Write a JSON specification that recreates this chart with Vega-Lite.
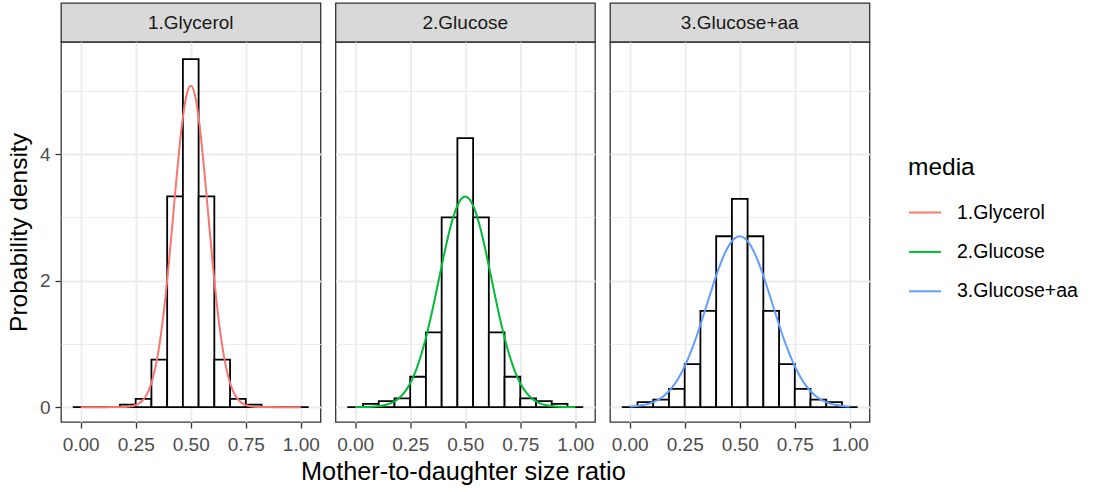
{
  "$schema": "https://vega.github.io/schema/vega-lite/v6.json",
  "background": "white",
  "padding": {"left": 5, "top": 2, "right": 5, "bottom": 5},
  "title": {"text": "Mother-to-daughter size ratio", "orient": "bottom", "anchor": "start", "frame": "group", "dx": 240, "fontSize": 25.3, "fontWeight": "normal", "font": "Liberation Sans", "color": "black", "offset": 5},
  "config": {
    "font": "Liberation Sans",
    "view": {"stroke": "#333333", "strokeWidth": 1.3},
    "axis": {
      "labelFont": "Liberation Sans",
      "labelFontSize": 19,
      "labelColor": "#4d4d4d",
      "tickColor": "#333333",
      "tickSize": 6,
      "tickWidth": 1.3,
      "labelPadding": 7,
      "domain": false,
      "gridColor": "#ebebeb",
      "titleFont": "Liberation Sans",
      "titleFontSize": 24.5,
      "titleFontWeight": "normal",
      "titleColor": "black",
      "labelOverlap": false,
      "labelFlush": false
    }
  },
  "datasets": {
    "bars": [
      {"media": "1.Glycerol", "x0": -0.0357, "x1": 0.0357, "density": 0},
      {"media": "1.Glycerol", "x0": 0.0357, "x1": 0.1071, "density": 0},
      {"media": "1.Glycerol", "x0": 0.1071, "x1": 0.1786, "density": 0},
      {"media": "1.Glycerol", "x0": 0.1786, "x1": 0.25, "density": 0.04},
      {"media": "1.Glycerol", "x0": 0.25, "x1": 0.3214, "density": 0.13},
      {"media": "1.Glycerol", "x0": 0.3214, "x1": 0.3929, "density": 0.75},
      {"media": "1.Glycerol", "x0": 0.3929, "x1": 0.4643, "density": 3.33},
      {"media": "1.Glycerol", "x0": 0.4643, "x1": 0.5357, "density": 5.5},
      {"media": "1.Glycerol", "x0": 0.5357, "x1": 0.6071, "density": 3.33},
      {"media": "1.Glycerol", "x0": 0.6071, "x1": 0.6786, "density": 0.75},
      {"media": "1.Glycerol", "x0": 0.6786, "x1": 0.75, "density": 0.13},
      {"media": "1.Glycerol", "x0": 0.75, "x1": 0.8214, "density": 0.04},
      {"media": "1.Glycerol", "x0": 0.8214, "x1": 0.8929, "density": 0},
      {"media": "1.Glycerol", "x0": 0.8929, "x1": 0.9643, "density": 0},
      {"media": "1.Glycerol", "x0": 0.9643, "x1": 1.0357, "density": 0},
      {"media": "2.Glucose", "x0": -0.0357, "x1": 0.0357, "density": 0},
      {"media": "2.Glucose", "x0": 0.0357, "x1": 0.1071, "density": 0.053},
      {"media": "2.Glucose", "x0": 0.1071, "x1": 0.1786, "density": 0.095},
      {"media": "2.Glucose", "x0": 0.1786, "x1": 0.25, "density": 0.137},
      {"media": "2.Glucose", "x0": 0.25, "x1": 0.3214, "density": 0.48},
      {"media": "2.Glucose", "x0": 0.3214, "x1": 0.3929, "density": 1.18},
      {"media": "2.Glucose", "x0": 0.3929, "x1": 0.4643, "density": 3.0},
      {"media": "2.Glucose", "x0": 0.4643, "x1": 0.5357, "density": 4.25},
      {"media": "2.Glucose", "x0": 0.5357, "x1": 0.6071, "density": 3.0},
      {"media": "2.Glucose", "x0": 0.6071, "x1": 0.6786, "density": 1.18},
      {"media": "2.Glucose", "x0": 0.6786, "x1": 0.75, "density": 0.48},
      {"media": "2.Glucose", "x0": 0.75, "x1": 0.8214, "density": 0.137},
      {"media": "2.Glucose", "x0": 0.8214, "x1": 0.8929, "density": 0.095},
      {"media": "2.Glucose", "x0": 0.8929, "x1": 0.9643, "density": 0.053},
      {"media": "2.Glucose", "x0": 0.9643, "x1": 1.0357, "density": 0},
      {"media": "3.Glucose+aa", "x0": -0.0357, "x1": 0.0357, "density": 0},
      {"media": "3.Glucose+aa", "x0": 0.0357, "x1": 0.1071, "density": 0.079},
      {"media": "3.Glucose+aa", "x0": 0.1071, "x1": 0.1786, "density": 0.12},
      {"media": "3.Glucose+aa", "x0": 0.1786, "x1": 0.25, "density": 0.29},
      {"media": "3.Glucose+aa", "x0": 0.25, "x1": 0.3214, "density": 0.68},
      {"media": "3.Glucose+aa", "x0": 0.3214, "x1": 0.3929, "density": 1.52},
      {"media": "3.Glucose+aa", "x0": 0.3929, "x1": 0.4643, "density": 2.7},
      {"media": "3.Glucose+aa", "x0": 0.4643, "x1": 0.5357, "density": 3.29},
      {"media": "3.Glucose+aa", "x0": 0.5357, "x1": 0.6071, "density": 2.7},
      {"media": "3.Glucose+aa", "x0": 0.6071, "x1": 0.6786, "density": 1.52},
      {"media": "3.Glucose+aa", "x0": 0.6786, "x1": 0.75, "density": 0.68},
      {"media": "3.Glucose+aa", "x0": 0.75, "x1": 0.8214, "density": 0.29},
      {"media": "3.Glucose+aa", "x0": 0.8214, "x1": 0.8929, "density": 0.12},
      {"media": "3.Glucose+aa", "x0": 0.8929, "x1": 0.9643, "density": 0.079},
      {"media": "3.Glucose+aa", "x0": 0.9643, "x1": 1.0357, "density": 0}
    ],
    "dens": [
      {"media": "1.Glycerol", "ratio": 0, "density": 0},
      {"media": "1.Glycerol", "ratio": 0.02, "density": 0},
      {"media": "1.Glycerol", "ratio": 0.04, "density": 0},
      {"media": "1.Glycerol", "ratio": 0.06, "density": 0},
      {"media": "1.Glycerol", "ratio": 0.08, "density": 0},
      {"media": "1.Glycerol", "ratio": 0.1, "density": 0},
      {"media": "1.Glycerol", "ratio": 0.12, "density": 0},
      {"media": "1.Glycerol", "ratio": 0.14, "density": 0.0001},
      {"media": "1.Glycerol", "ratio": 0.16, "density": 0.0004},
      {"media": "1.Glycerol", "ratio": 0.18, "density": 0.0013},
      {"media": "1.Glycerol", "ratio": 0.2, "density": 0.0034},
      {"media": "1.Glycerol", "ratio": 0.22, "density": 0.0088},
      {"media": "1.Glycerol", "ratio": 0.24, "density": 0.0211},
      {"media": "1.Glycerol", "ratio": 0.26, "density": 0.0475},
      {"media": "1.Glycerol", "ratio": 0.28, "density": 0.1001},
      {"media": "1.Glycerol", "ratio": 0.3, "density": 0.1978},
      {"media": "1.Glycerol", "ratio": 0.32, "density": 0.3666},
      {"media": "1.Glycerol", "ratio": 0.34, "density": 0.6365},
      {"media": "1.Glycerol", "ratio": 0.36, "density": 1.036},
      {"media": "1.Glycerol", "ratio": 0.38, "density": 1.579},
      {"media": "1.Glycerol", "ratio": 0.4, "density": 2.257},
      {"media": "1.Glycerol", "ratio": 0.42, "density": 3.023},
      {"media": "1.Glycerol", "ratio": 0.44, "density": 3.793},
      {"media": "1.Glycerol", "ratio": 0.46, "density": 4.462},
      {"media": "1.Glycerol", "ratio": 0.48, "density": 4.918},
      {"media": "1.Glycerol", "ratio": 0.5, "density": 5.08},
      {"media": "1.Glycerol", "ratio": 0.52, "density": 4.918},
      {"media": "1.Glycerol", "ratio": 0.54, "density": 4.462},
      {"media": "1.Glycerol", "ratio": 0.56, "density": 3.793},
      {"media": "1.Glycerol", "ratio": 0.58, "density": 3.023},
      {"media": "1.Glycerol", "ratio": 0.6, "density": 2.257},
      {"media": "1.Glycerol", "ratio": 0.62, "density": 1.579},
      {"media": "1.Glycerol", "ratio": 0.64, "density": 1.036},
      {"media": "1.Glycerol", "ratio": 0.66, "density": 0.6365},
      {"media": "1.Glycerol", "ratio": 0.68, "density": 0.3666},
      {"media": "1.Glycerol", "ratio": 0.7, "density": 0.1978},
      {"media": "1.Glycerol", "ratio": 0.72, "density": 0.1001},
      {"media": "1.Glycerol", "ratio": 0.74, "density": 0.0475},
      {"media": "1.Glycerol", "ratio": 0.76, "density": 0.0211},
      {"media": "1.Glycerol", "ratio": 0.78, "density": 0.0088},
      {"media": "1.Glycerol", "ratio": 0.8, "density": 0.0034},
      {"media": "1.Glycerol", "ratio": 0.82, "density": 0.0013},
      {"media": "1.Glycerol", "ratio": 0.84, "density": 0.0004},
      {"media": "1.Glycerol", "ratio": 0.86, "density": 0.0001},
      {"media": "1.Glycerol", "ratio": 0.88, "density": 0},
      {"media": "1.Glycerol", "ratio": 0.9, "density": 0},
      {"media": "1.Glycerol", "ratio": 0.92, "density": 0},
      {"media": "1.Glycerol", "ratio": 0.94, "density": 0},
      {"media": "1.Glycerol", "ratio": 0.96, "density": 0},
      {"media": "1.Glycerol", "ratio": 0.98, "density": 0},
      {"media": "1.Glycerol", "ratio": 1, "density": 0},
      {"media": "2.Glucose", "ratio": 0, "density": 0.0006},
      {"media": "2.Glucose", "ratio": 0.02, "density": 0.0011},
      {"media": "2.Glucose", "ratio": 0.04, "density": 0.0021},
      {"media": "2.Glucose", "ratio": 0.06, "density": 0.0039},
      {"media": "2.Glucose", "ratio": 0.08, "density": 0.0071},
      {"media": "2.Glucose", "ratio": 0.1, "density": 0.0126},
      {"media": "2.Glucose", "ratio": 0.12, "density": 0.0218},
      {"media": "2.Glucose", "ratio": 0.14, "density": 0.0364},
      {"media": "2.Glucose", "ratio": 0.16, "density": 0.0593},
      {"media": "2.Glucose", "ratio": 0.18, "density": 0.094},
      {"media": "2.Glucose", "ratio": 0.2, "density": 0.1448},
      {"media": "2.Glucose", "ratio": 0.22, "density": 0.2169},
      {"media": "2.Glucose", "ratio": 0.24, "density": 0.316},
      {"media": "2.Glucose", "ratio": 0.26, "density": 0.4476},
      {"media": "2.Glucose", "ratio": 0.28, "density": 0.6168},
      {"media": "2.Glucose", "ratio": 0.3, "density": 0.8265},
      {"media": "2.Glucose", "ratio": 0.32, "density": 1.077},
      {"media": "2.Glucose", "ratio": 0.34, "density": 1.365},
      {"media": "2.Glucose", "ratio": 0.36, "density": 1.682},
      {"media": "2.Glucose", "ratio": 0.38, "density": 2.016},
      {"media": "2.Glucose", "ratio": 0.4, "density": 2.35},
      {"media": "2.Glucose", "ratio": 0.42, "density": 2.665},
      {"media": "2.Glucose", "ratio": 0.44, "density": 2.937},
      {"media": "2.Glucose", "ratio": 0.46, "density": 3.149},
      {"media": "2.Glucose", "ratio": 0.48, "density": 3.284},
      {"media": "2.Glucose", "ratio": 0.5, "density": 3.33},
      {"media": "2.Glucose", "ratio": 0.52, "density": 3.284},
      {"media": "2.Glucose", "ratio": 0.54, "density": 3.149},
      {"media": "2.Glucose", "ratio": 0.56, "density": 2.937},
      {"media": "2.Glucose", "ratio": 0.58, "density": 2.665},
      {"media": "2.Glucose", "ratio": 0.6, "density": 2.35},
      {"media": "2.Glucose", "ratio": 0.62, "density": 2.016},
      {"media": "2.Glucose", "ratio": 0.64, "density": 1.682},
      {"media": "2.Glucose", "ratio": 0.66, "density": 1.365},
      {"media": "2.Glucose", "ratio": 0.68, "density": 1.077},
      {"media": "2.Glucose", "ratio": 0.7, "density": 0.8265},
      {"media": "2.Glucose", "ratio": 0.72, "density": 0.6168},
      {"media": "2.Glucose", "ratio": 0.74, "density": 0.4476},
      {"media": "2.Glucose", "ratio": 0.76, "density": 0.316},
      {"media": "2.Glucose", "ratio": 0.78, "density": 0.2169},
      {"media": "2.Glucose", "ratio": 0.8, "density": 0.1448},
      {"media": "2.Glucose", "ratio": 0.82, "density": 0.094},
      {"media": "2.Glucose", "ratio": 0.84, "density": 0.0593},
      {"media": "2.Glucose", "ratio": 0.86, "density": 0.0364},
      {"media": "2.Glucose", "ratio": 0.88, "density": 0.0218},
      {"media": "2.Glucose", "ratio": 0.9, "density": 0.0126},
      {"media": "2.Glucose", "ratio": 0.92, "density": 0.0071},
      {"media": "2.Glucose", "ratio": 0.94, "density": 0.0039},
      {"media": "2.Glucose", "ratio": 0.96, "density": 0.0021},
      {"media": "2.Glucose", "ratio": 0.98, "density": 0.0011},
      {"media": "2.Glucose", "ratio": 1, "density": 0.0006},
      {"media": "3.Glucose+aa", "ratio": 0, "density": 0.0088},
      {"media": "3.Glucose+aa", "ratio": 0.02, "density": 0.0138},
      {"media": "3.Glucose+aa", "ratio": 0.04, "density": 0.0213},
      {"media": "3.Glucose+aa", "ratio": 0.06, "density": 0.0321},
      {"media": "3.Glucose+aa", "ratio": 0.08, "density": 0.0476},
      {"media": "3.Glucose+aa", "ratio": 0.1, "density": 0.0693},
      {"media": "3.Glucose+aa", "ratio": 0.12, "density": 0.0991},
      {"media": "3.Glucose+aa", "ratio": 0.14, "density": 0.139},
      {"media": "3.Glucose+aa", "ratio": 0.16, "density": 0.1915},
      {"media": "3.Glucose+aa", "ratio": 0.18, "density": 0.2591},
      {"media": "3.Glucose+aa", "ratio": 0.2, "density": 0.3441},
      {"media": "3.Glucose+aa", "ratio": 0.22, "density": 0.4487},
      {"media": "3.Glucose+aa", "ratio": 0.24, "density": 0.5746},
      {"media": "3.Glucose+aa", "ratio": 0.26, "density": 0.7224},
      {"media": "3.Glucose+aa", "ratio": 0.28, "density": 0.8918},
      {"media": "3.Glucose+aa", "ratio": 0.3, "density": 1.081},
      {"media": "3.Glucose+aa", "ratio": 0.32, "density": 1.286},
      {"media": "3.Glucose+aa", "ratio": 0.34, "density": 1.503},
      {"media": "3.Glucose+aa", "ratio": 0.36, "density": 1.724},
      {"media": "3.Glucose+aa", "ratio": 0.38, "density": 1.942},
      {"media": "3.Glucose+aa", "ratio": 0.4, "density": 2.148},
      {"media": "3.Glucose+aa", "ratio": 0.42, "density": 2.332},
      {"media": "3.Glucose+aa", "ratio": 0.44, "density": 2.486},
      {"media": "3.Glucose+aa", "ratio": 0.46, "density": 2.603},
      {"media": "3.Glucose+aa", "ratio": 0.48, "density": 2.675},
      {"media": "3.Glucose+aa", "ratio": 0.5, "density": 2.7},
      {"media": "3.Glucose+aa", "ratio": 0.52, "density": 2.675},
      {"media": "3.Glucose+aa", "ratio": 0.54, "density": 2.603},
      {"media": "3.Glucose+aa", "ratio": 0.56, "density": 2.486},
      {"media": "3.Glucose+aa", "ratio": 0.58, "density": 2.332},
      {"media": "3.Glucose+aa", "ratio": 0.6, "density": 2.148},
      {"media": "3.Glucose+aa", "ratio": 0.62, "density": 1.942},
      {"media": "3.Glucose+aa", "ratio": 0.64, "density": 1.724},
      {"media": "3.Glucose+aa", "ratio": 0.66, "density": 1.503},
      {"media": "3.Glucose+aa", "ratio": 0.68, "density": 1.286},
      {"media": "3.Glucose+aa", "ratio": 0.7, "density": 1.081},
      {"media": "3.Glucose+aa", "ratio": 0.72, "density": 0.8918},
      {"media": "3.Glucose+aa", "ratio": 0.74, "density": 0.7224},
      {"media": "3.Glucose+aa", "ratio": 0.76, "density": 0.5746},
      {"media": "3.Glucose+aa", "ratio": 0.78, "density": 0.4487},
      {"media": "3.Glucose+aa", "ratio": 0.8, "density": 0.3441},
      {"media": "3.Glucose+aa", "ratio": 0.82, "density": 0.2591},
      {"media": "3.Glucose+aa", "ratio": 0.84, "density": 0.1915},
      {"media": "3.Glucose+aa", "ratio": 0.86, "density": 0.139},
      {"media": "3.Glucose+aa", "ratio": 0.88, "density": 0.0991},
      {"media": "3.Glucose+aa", "ratio": 0.9, "density": 0.0693},
      {"media": "3.Glucose+aa", "ratio": 0.92, "density": 0.0476},
      {"media": "3.Glucose+aa", "ratio": 0.94, "density": 0.0321},
      {"media": "3.Glucose+aa", "ratio": 0.96, "density": 0.0213},
      {"media": "3.Glucose+aa", "ratio": 0.98, "density": 0.0138},
      {"media": "3.Glucose+aa", "ratio": 1, "density": 0.0088}
    ]
  },
  "spacing": 12.5,
  "hconcat": [
    {
      "bounds": "flush",
      "spacing": 0,
      "vconcat": [
        {
          "width": 259.5, "height": 39,
          "data": {"values": [{"label": "1.Glycerol"}]},
          "mark": {"type": "text", "fontSize": 19, "fill": "#1a1a1a", "font": "Liberation Sans"},
          "encoding": {"text": {"field": "label"}},
          "view": {"fill": "#d9d9d9", "stroke": "#333333", "strokeWidth": 1.3}
        },
        {
          "width": 259.5, "height": 380,
          "layer": [
            {
              "data": {"name": "bars"},
              "transform": [{"filter": {"field": "media", "equal": "1.Glycerol"}}],
              "mark": {"type": "rect", "fill": "white", "stroke": "black", "strokeWidth": 1.8},
              "encoding": {
                "x": {"field": "x0", "type": "quantitative", "scale": {"domain": [-0.0893, 1.0893], "nice": false, "zero": false},
                  "axis": {"values": [0, 0.125, 0.25, 0.375, 0.5, 0.625, 0.75, 0.875, 1], "labelExpr": "datum.value * 4 % 1 === 0 ? format(datum.value, '.2f') : ''", "grid": true,
                    "gridWidth": {"condition": {"test": "datum.value * 4 % 1 === 0", "value": 1.8}, "value": 0.9},
                    "tickOpacity": {"condition": {"test": "datum.value * 4 % 1 === 0", "value": 1}, "value": 0}, "title": null}},
                "x2": {"field": "x1"},
                "y": {"field": "density", "type": "quantitative", "scale": {"domain": [-0.235, 5.77], "nice": false, "zero": false},
                  "axis": {"values": [0, 1, 2, 3, 4, 5], "labelExpr": "datum.value % 2 === 0 ? format(datum.value, 'd') : ''", "grid": true, "labelPadding": 5,
                    "gridWidth": {"condition": {"test": "datum.value % 2 === 0", "value": 1.8}, "value": 0.9},
                    "tickOpacity": {"condition": {"test": "datum.value % 2 === 0", "value": 1}, "value": 0},
                    "title": "Probability density", "titlePadding": 8}},
                "y2": {"datum": 0}
              }
            },
            {
              "data": {"name": "dens"},
              "transform": [{"filter": {"field": "media", "equal": "1.Glycerol"}}],
              "mark": {"type": "line", "strokeWidth": 2, "interpolate": "monotone"},
              "encoding": {
                "x": {"field": "ratio", "type": "quantitative"},
                "y": {"field": "density", "type": "quantitative"},
                "color": {"field": "media", "type": "nominal",
                  "scale": {"domain": ["1.Glycerol", "2.Glucose", "3.Glucose+aa"], "range": ["#F8766D", "#00BA38", "#619CFF"]},
                  "legend": {"orient": "none", "legendX": 847, "legendY": 153, "title": "media", "titleFontSize": 24.5, "titleFontWeight": "normal", "titleColor": "black", "titleFont": "Liberation Sans", "titlePadding": 15, "labelFontSize": 19.5, "labelColor": "black", "labelFont": "Liberation Sans", "labelOffset": 15, "symbolType": "stroke", "symbolSize": 1024, "symbolStrokeWidth": 2, "rowPadding": 12.4}}
              }
            }
          ]
        }
      ]
    },
    {
      "bounds": "flush",
      "spacing": 0,
      "vconcat": [
        {
          "width": 259.5, "height": 39,
          "data": {"values": [{"label": "2.Glucose"}]},
          "mark": {"type": "text", "fontSize": 19, "fill": "#1a1a1a", "font": "Liberation Sans"},
          "encoding": {"text": {"field": "label"}},
          "view": {"fill": "#d9d9d9", "stroke": "#333333", "strokeWidth": 1.3}
        },
        {
          "width": 259.5, "height": 380,
          "layer": [
            {
              "data": {"name": "bars"},
              "transform": [{"filter": {"field": "media", "equal": "2.Glucose"}}],
              "mark": {"type": "rect", "fill": "white", "stroke": "black", "strokeWidth": 1.8},
              "encoding": {
                "x": {"field": "x0", "type": "quantitative", "scale": {"domain": [-0.0893, 1.0893], "nice": false, "zero": false},
                  "axis": {"values": [0, 0.125, 0.25, 0.375, 0.5, 0.625, 0.75, 0.875, 1], "labelExpr": "datum.value * 4 % 1 === 0 ? format(datum.value, '.2f') : ''", "grid": true,
                    "gridWidth": {"condition": {"test": "datum.value * 4 % 1 === 0", "value": 1.8}, "value": 0.9},
                    "tickOpacity": {"condition": {"test": "datum.value * 4 % 1 === 0", "value": 1}, "value": 0}, "title": null}},
                "x2": {"field": "x1"},
                "y": {"field": "density", "type": "quantitative", "scale": {"domain": [-0.235, 5.77], "nice": false, "zero": false},
                  "axis": {"values": [0, 1, 2, 3, 4, 5], "labels": false, "ticks": false, "grid": true,
                    "gridWidth": {"condition": {"test": "datum.value % 2 === 0", "value": 1.8}, "value": 0.9}, "title": null}},
                "y2": {"datum": 0}
              }
            },
            {
              "data": {"name": "dens"},
              "transform": [{"filter": {"field": "media", "equal": "2.Glucose"}}],
              "mark": {"type": "line", "strokeWidth": 2, "interpolate": "monotone"},
              "encoding": {
                "x": {"field": "ratio", "type": "quantitative"},
                "y": {"field": "density", "type": "quantitative"},
                "color": {"field": "media", "type": "nominal",
                  "scale": {"domain": ["1.Glycerol", "2.Glucose", "3.Glucose+aa"], "range": ["#F8766D", "#00BA38", "#619CFF"]}}
              }
            }
          ]
        }
      ]
    },
    {
      "bounds": "flush",
      "spacing": 0,
      "vconcat": [
        {
          "width": 259.5, "height": 39,
          "data": {"values": [{"label": "3.Glucose+aa"}]},
          "mark": {"type": "text", "fontSize": 19, "fill": "#1a1a1a", "font": "Liberation Sans"},
          "encoding": {"text": {"field": "label"}},
          "view": {"fill": "#d9d9d9", "stroke": "#333333", "strokeWidth": 1.3}
        },
        {
          "width": 259.5, "height": 380,
          "layer": [
            {
              "data": {"name": "bars"},
              "transform": [{"filter": {"field": "media", "equal": "3.Glucose+aa"}}],
              "mark": {"type": "rect", "fill": "white", "stroke": "black", "strokeWidth": 1.8},
              "encoding": {
                "x": {"field": "x0", "type": "quantitative", "scale": {"domain": [-0.0893, 1.0893], "nice": false, "zero": false},
                  "axis": {"values": [0, 0.125, 0.25, 0.375, 0.5, 0.625, 0.75, 0.875, 1], "labelExpr": "datum.value * 4 % 1 === 0 ? format(datum.value, '.2f') : ''", "grid": true,
                    "gridWidth": {"condition": {"test": "datum.value * 4 % 1 === 0", "value": 1.8}, "value": 0.9},
                    "tickOpacity": {"condition": {"test": "datum.value * 4 % 1 === 0", "value": 1}, "value": 0}, "title": null}},
                "x2": {"field": "x1"},
                "y": {"field": "density", "type": "quantitative", "scale": {"domain": [-0.235, 5.77], "nice": false, "zero": false},
                  "axis": {"values": [0, 1, 2, 3, 4, 5], "labels": false, "ticks": false, "grid": true,
                    "gridWidth": {"condition": {"test": "datum.value % 2 === 0", "value": 1.8}, "value": 0.9}, "title": null}},
                "y2": {"datum": 0}
              }
            },
            {
              "data": {"name": "dens"},
              "transform": [{"filter": {"field": "media", "equal": "3.Glucose+aa"}}],
              "mark": {"type": "line", "strokeWidth": 2, "interpolate": "monotone"},
              "encoding": {
                "x": {"field": "ratio", "type": "quantitative"},
                "y": {"field": "density", "type": "quantitative"},
                "color": {"field": "media", "type": "nominal",
                  "scale": {"domain": ["1.Glycerol", "2.Glucose", "3.Glucose+aa"], "range": ["#F8766D", "#00BA38", "#619CFF"]}}
              }
            }
          ]
        }
      ]
    }
  ]
}
